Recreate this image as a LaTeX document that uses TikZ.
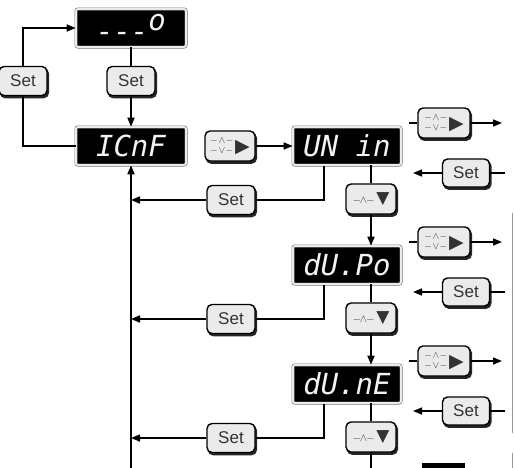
\documentclass[tikz,border=0pt]{standalone}
\usepackage{fontspec}
\setmainfont{Liberation Sans}
\newfontfamily\segfont{DejaVu Sans Mono}
\newfontfamily\symfont{DejaVu Sans}
\usetikzlibrary{arrows.meta}

\newcommand{\updn}{\raisebox{-.1em}{\shortstack{\fontsize{10}{5}\selectfont$-\!\wedge\!-$\\\fontsize{10}{5}\selectfont$-\!\vee\!-$}}\,{\symfont\fontsize{19}{19}\selectfont ▶}}
\newcommand{\dnkey}{{\fontsize{11}{11}\selectfont$-\!\!\wedge\!\!-$}\,{\symfont\fontsize{17}{17}\selectfont ▼}}

\begin{document}
\begin{tikzpicture}[x=1pt,y=-1pt,line width=1.6pt,
  >={Triangle[length=9pt,width=7pt]},
  disp/.style={rectangle,rounded corners=2pt,fill=black,draw=black!55,line width=0.6pt,
    double=black!8,double distance=1.8pt,minimum width=110pt,minimum height=38pt,
    inner sep=0,text=black!5,font=\segfont\itshape\fontsize{29}{29}\selectfont},
  key/.style={rectangle,rounded corners=5pt,draw,line width=1.4pt,fill=black!8,
    minimum width=50pt,minimum height=30pt,inner sep=1pt,text=black!80,
    preaction={draw=black!85,line width=1.4pt,fill=black!85,
      transform canvas={xshift=1.4pt,yshift=-2.2pt}}},
  setkey/.style={key,minimum width=48pt,minimum height=29pt,font=\fontsize{17}{17}\selectfont}]
\useasboundingbox (0,0) rectangle (514,467);
\clip (0,0) rectangle (514,467);
% top of the menu
\node[disp] (dash) at (131,28) {---\raisebox{.38em}{o}};
\node[setkey] (s0) at (131,81) {Set};
\node[setkey] (sl) at (23,81) {Set};
\node[disp] (conf) at (131,146) {ICnF};
\node[key] (k0) at (230,146) {\updn};
\coordinate (bot) at (131,470);
\draw[->] (dash) -- (s0) -- (conf);
\draw[->] (conf.west) -| (sl) |- (dash.west);
\draw[->] (bot) -- (conf);
% the three entries
\foreach \i/\y/\t in {1/146/{UN in},2/265/{dU.Po},3/384/{dU.nE}} {
  \node[disp,minimum width=108pt] (r\i) at (347,\y) {\t};
  \node[key] (d\i) at (371,\y+53) {\dnkey};
  \node[setkey] (s\i) at (231,\y+54) {Set};
  \node[key,minimum width=52pt] (u\i) at (444,\y-23) {\updn};
  \node[setkey,minimum width=47pt,minimum height=28pt] (t\i) at (466,\y+27) {Set};
  \coordinate (a\i) at (324,\y+20);
  \draw[->] (a\i) |- (s\i) -- (s\i -| bot);
  \draw (r\i.south -| d\i) -- (d\i);
  \coordinate (p\i) at (409,\y-23);
  \coordinate (q\i) at (502,\y-23);
  \draw (p\i) -- (u\i);
  \draw[->] (u\i) -- (q\i);
  \coordinate (m\i) at (413,\y+27);
  \coordinate (n\i) at (505,\y+27);
  \draw (n\i) -- (t\i);
  \draw[->] (t\i) -- (m\i);
}
\draw[->] (k0) -- (r1);
\draw[->] (d1) -- (r2.north -| d1);
\draw[->] (d2) -- (r3.north -| d2);
\draw (d3) -- (371,470);
% cut edges of the page
\draw[black!40,line width=1pt] (512,213) -- (512,433);
\draw[black!40,line width=1pt] (512,453) -- (512,470);
\fill (422,463) rectangle (465,470);
\end{tikzpicture}
\end{document}
